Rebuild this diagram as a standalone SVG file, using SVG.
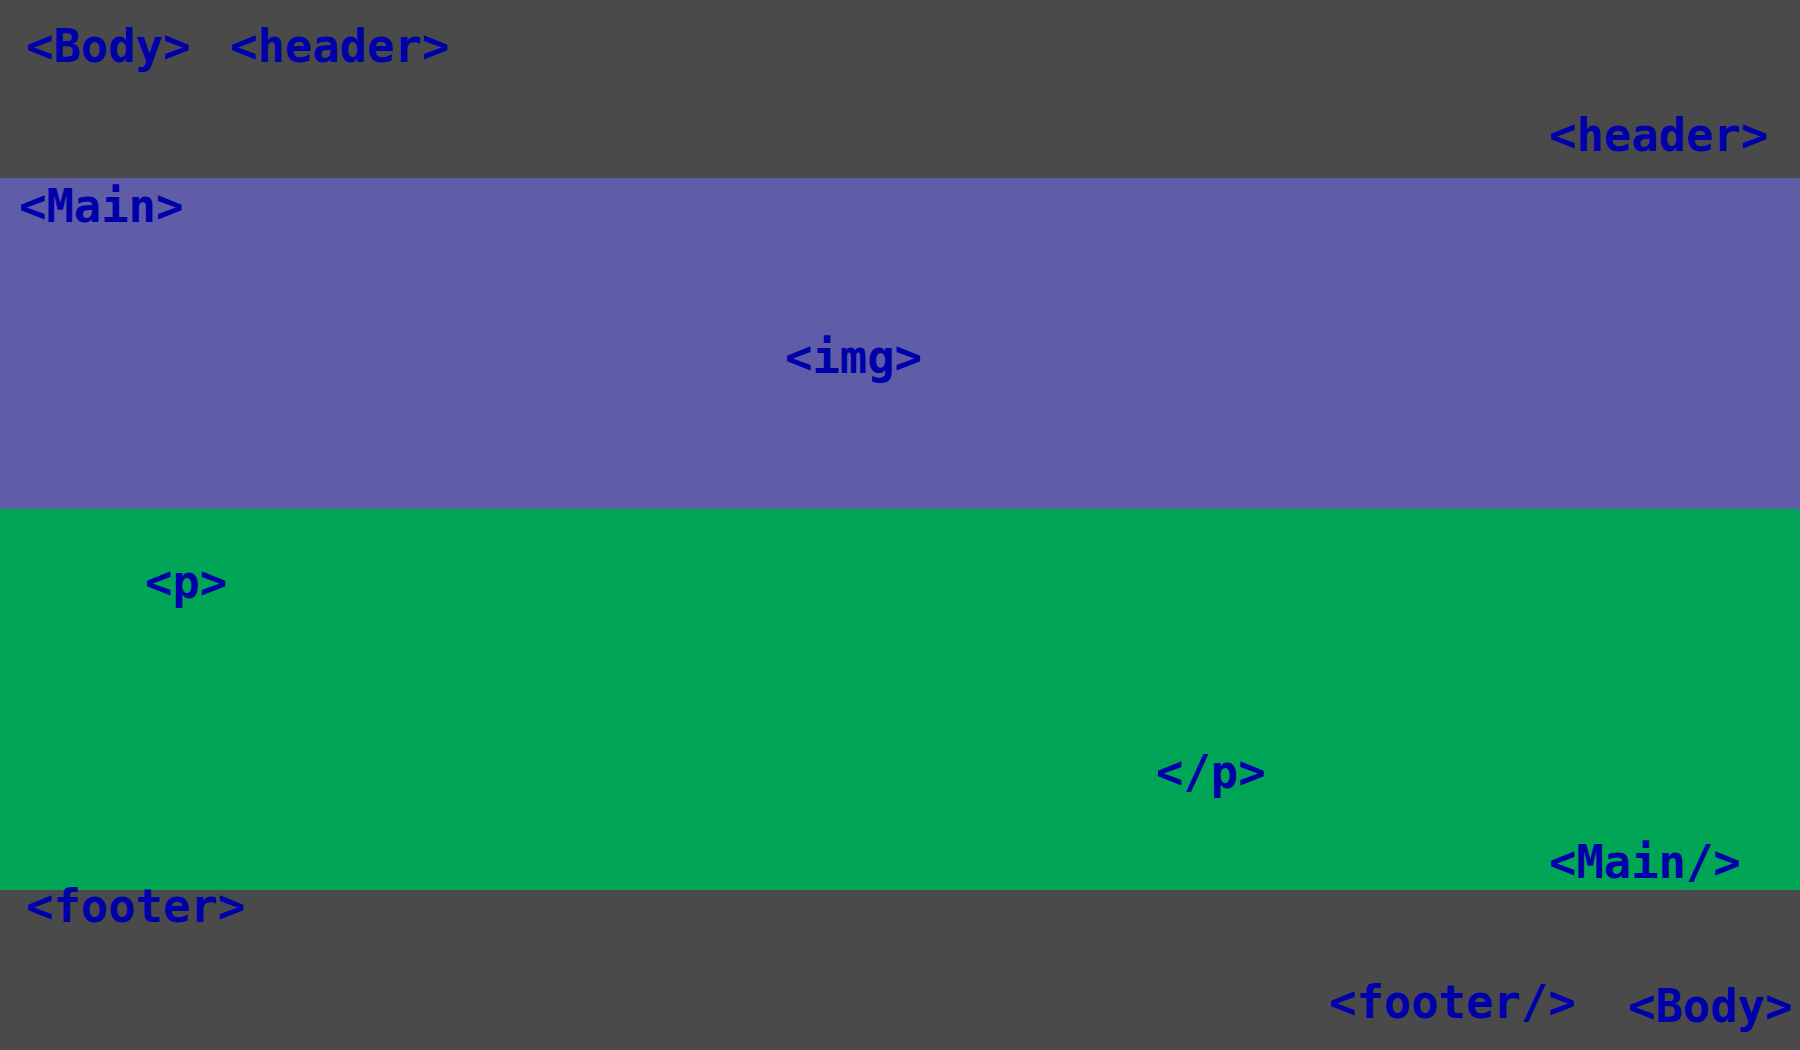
<svg xmlns="http://www.w3.org/2000/svg" width="1800" height="1050" viewBox="0 0 1800 1050">
<style>
text { font-family: "DejaVu Sans Mono", "Liberation Mono", monospace; font-weight: bold; font-size: 45.5px; fill: #0000aa; }
</style>
<rect x="0" y="0" width="1800" height="1050" fill="#4a4a4a"/>
<rect x="0" y="178" width="1800" height="331" fill="#5f5ca8"/>
<rect x="0" y="509" width="1800" height="381" fill="#00a555"/>
<text x="26" y="62">&lt;Body&gt;</text>
<text x="230" y="62">&lt;header&gt;</text>
<text x="1549" y="151">&lt;header&gt;</text>
<text x="19" y="222">&lt;Main&gt;</text>
<text x="785" y="373">&lt;img&gt;</text>
<text x="145" y="598">&lt;p&gt;</text>
<text x="1156" y="788">&lt;/p&gt;</text>
<text x="1549" y="878">&lt;Main/&gt;</text>
<text x="26" y="922">&lt;footer&gt;</text>
<text x="1329" y="1018">&lt;footer/&gt;</text>
<text x="1628" y="1022">&lt;Body&gt;</text>
</svg>
